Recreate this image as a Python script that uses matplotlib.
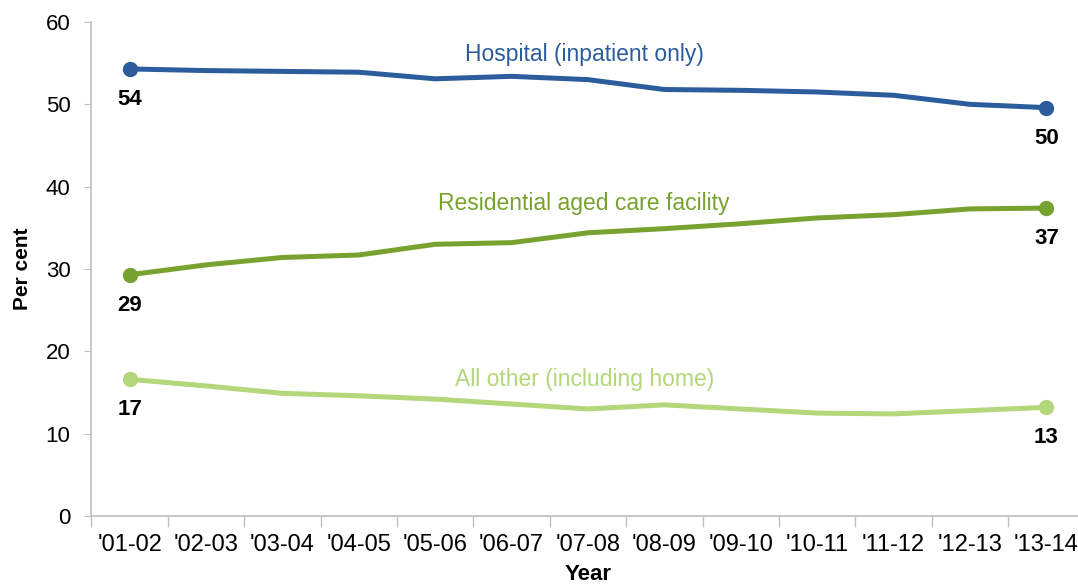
import matplotlib.pyplot as plt
import numpy as np

plt.rcParams['font.family'] = ['Liberation Sans', 'DejaVu Sans']

years = ["'01-02", "'02-03", "'03-04", "'04-05", "'05-06", "'06-07", "'07-08",
         "'08-09", "'09-10", "'10-11", "'11-12", "'12-13", "'13-14"]
hospital = [54.3, 54.1, 54.0, 53.9, 53.1, 53.4, 53.0, 51.8, 51.7, 51.5, 51.1, 50.0, 49.6]
residential = [29.3, 30.5, 31.4, 31.7, 33.0, 33.2, 34.4, 34.9, 35.5, 36.2, 36.6, 37.3, 37.4]
other = [16.6, 15.8, 14.9, 14.6, 14.2, 13.6, 13.0, 13.5, 13.0, 12.5, 12.4, 12.8, 13.2]

series = [
    ('Hospital (inpatient only)', hospital, '#2B5C9B', 56.1),
    ('Residential aged care facility', residential, '#78A22F', 38.0),
    ('All other (including home)', other, '#B3D77A', 16.6),
]

fig = plt.figure(figsize=(10.78, 5.88), dpi=100)
ax = fig.add_axes([91.4 / 1078, 72 / 588, 993.2 / 1078, 494 / 588])

x = np.arange(len(years))
for name, vals, col, label_y in series:
    ax.plot(x, vals, color=col, lw=3.6, solid_capstyle='round', zorder=3)
    # markers only at the ends
    ends = [0, len(vals) - 1]
    ax.plot(x[ends], [vals[i] for i in ends], 'o', color=col, ms=10, zorder=4)
    for i in ends:
        ax.annotate(f'{vals[i]:.0f}', (x[i], vals[i]), xytext=(0, -22),
                    textcoords='offset points', ha='center', va='center',
                    fontsize=16, fontweight='bold', color='black')
    ax.text(5.95, label_y, name, color=col, fontsize=16.5, ha='center', va='center')

ax.set_xlim(-0.5, len(years) - 0.5)
ax.set_ylim(0, 60)
ax.set_yticks(range(0, 61, 10))
ax.set_xticks(x)
ax.set_xticklabels(years)
ax.set_xticks(np.arange(-0.5, len(years), 1), minor=True)
ax.tick_params(axis='x', which='major', length=0, pad=13, labelsize=17)
ax.tick_params(axis='x', which='minor', length=8, color='#BFBFBF', width=1)
ax.tick_params(axis='y', length=5, color='#BFBFBF', labelsize=16, pad=10)

for s in ['top', 'right']:
    ax.spines[s].set_visible(False)
for s in ['left', 'bottom']:
    ax.spines[s].set_color('#BFBFBF')
    ax.spines[s].set_linewidth(1.2)

ax.set_ylabel('Per cent', fontsize=15, fontweight='bold', labelpad=10)
ax.set_xlabel('Year', fontsize=16, fontweight='bold', labelpad=6)

fig.savefig('out.png', dpi=100)
